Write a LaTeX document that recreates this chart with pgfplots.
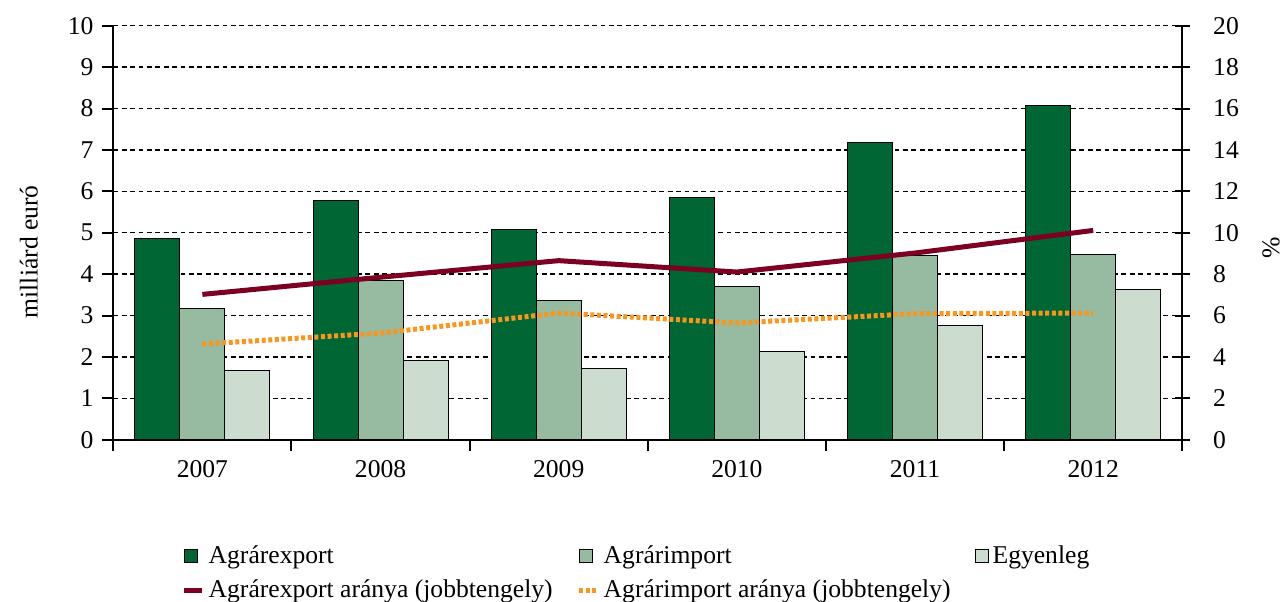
\documentclass[border=0pt]{standalone}
\usepackage{fontspec}
\setmainfont{Liberation Serif}
\usepackage{pgfplots}
\pgfplotsset{compat=1.18}
\definecolor{expc}{RGB}{0,102,51}
\definecolor{impc}{RGB}{150,187,160}
\definecolor{egyc}{RGB}{204,221,207}
\definecolor{exl}{RGB}{123,0,34}
\definecolor{iml}{RGB}{248,150,30}
\pgfplotsset{
  barleg/.style={legend image code/.code={\draw[##1,line width=0.5pt] (0pt,-3.25pt) rectangle (6.5pt,3.25pt);}},
  lineleg/.style={legend image code/.code={\draw[##1] (0pt,0pt) -- (9pt,0pt);}},
  common/.style={scale only axis, width=534.5pt, height=207pt, xmin=-0.5, xmax=5.5,
    font=\fontsize{12.8}{15}\selectfont,
    tick align=outside, major tick length=5.75pt,
    tick style={black, line width=1pt},
    axis line style={-, black, line width=0.9pt},
    /pgf/number format/assume math mode=true},
}
\begin{document}
\begin{tikzpicture}
\begin{axis}[common, name=ax, ymin=0, ymax=10,
  axis x line*=bottom, axis y line*=left,
  ytick={0,1,...,10},
  xtick={-0.5,0.5,...,5.5}, xticklabels={,,,,,,,},
  extra x ticks={0,1,2,3,4,5},
  extra x tick labels={2007,2008,2009,2010,2011,2012},
  extra x tick style={grid=none, major tick length=0pt, xticklabel style={yshift=-7pt}},
  ymajorgrids, grid style={black, line width=0.75pt, dash pattern=on 2.4pt off 1.8pt},
  ylabel={milliárd euró},
  ylabel style={at={(axis description cs:-0.079,0.454)}, anchor=center},
  yticklabel style={inner xsep=4pt},
  legend columns=3,
  legend cell align=left,
  legend style={draw=none, fill=none, at={(axis description cs:0.058,-0.236)}, anchor=north west,
    font=\fontsize{12.8}{15}\selectfont, row sep=2.5pt,
    /tikz/every even column/.append style={column sep=10pt}},
]
\addplot[ybar, bar width=0.2526, bar shift=-0.2526, fill=expc, draw=black, line width=0.5pt, barleg]
  coordinates {(0,4.86) (1,5.78) (2,5.08) (3,5.84) (4,7.19) (5,8.08)};
\addlegendentry{Agrárexport}
\addplot[ybar, bar width=0.2526, bar shift=0, fill=impc, draw=black, line width=0.5pt, barleg]
  coordinates {(0,3.18) (1,3.85) (2,3.36) (3,3.71) (4,4.44) (5,4.47)};
\addlegendentry{Agrárimport}
\addplot[ybar, bar width=0.2526, bar shift=0.2526, fill=egyc, draw=black, line width=0.5pt, barleg]
  coordinates {(0,1.67) (1,1.92) (2,1.71) (3,2.13) (4,2.75) (5,3.62)};
\addlegendentry{Egyenleg}
\addlegendimage{exl, line width=2.5pt, lineleg}
\addlegendentry{Agrárexport aránya (jobbtengely)}
\addlegendimage{iml, line width=2.5pt, dash pattern=on 2pt off 1.3pt, lineleg}
\addlegendentry{Agrárimport aránya (jobbtengely)}
\end{axis}
\begin{axis}[common, ymin=0, ymax=20,
  axis y line*=right, axis x line=none,
  ytick={0,2,...,20},
  tick align=center, major tick length=7.5pt,
  yticklabel style={inner xsep=4pt, xshift=7.5pt},
  ylabel={\%},
  ylabel style={at={(axis description cs:1.083,0.464)}, anchor=center, rotate=0},
]
\addplot[exl, line width=2.5pt] coordinates {(0,7.02) (1,7.85) (2,8.65) (3,8.1) (4,9.02) (5,10.11)};
\addplot[iml, line width=2.5pt, dash pattern=on 2pt off 1.3pt] coordinates {(0,4.62) (1,5.15) (2,6.12) (3,5.64) (4,6.09) (5,6.12)};
\end{axis}
\pgfresetboundingbox
\path[use as bounding box] ([shift={(-56.65pt,-81pt)}]ax.south west) rectangle ([shift={(52.35pt,12.85pt)}]ax.north east);
\end{tikzpicture}
\end{document}
